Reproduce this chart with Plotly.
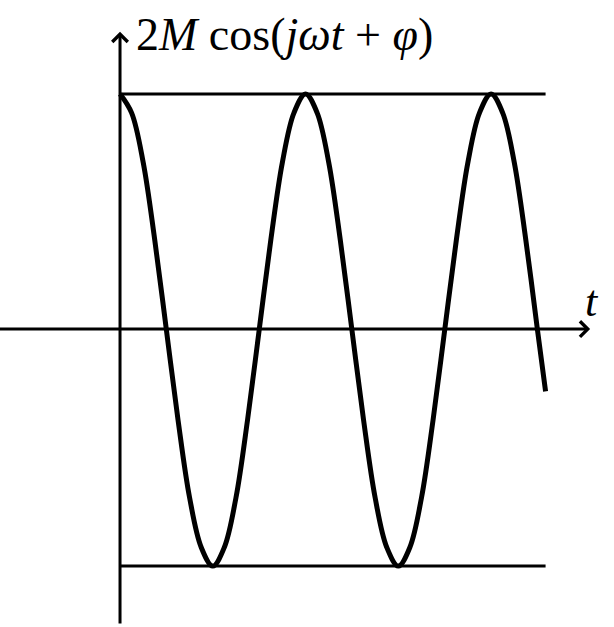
import plotly.graph_objects as go

# time samples (1 period = 8 units) (amplitude normalised to 1)
t_vals = [0.0, 0.5, 1.0, 1.5, 2.0, 2.5, 3.0, 3.5, 4.0, 4.5, 5.0, 5.5, 6.0, 6.5, 7.0, 7.5,
          8.0, 8.5, 9.0, 9.5, 10.0, 10.5, 11.0, 11.5, 12.0, 12.5, 13.0, 13.5, 14.0, 14.5, 15.0, 15.5,
          16.0, 16.5, 17.0, 17.5, 18.0, 18.35]
signal = [1.0, 0.92, 0.71, 0.38, 0.0, -0.38, -0.71, -0.92, -1.0, -0.92, -0.71, -0.38, 0.0, 0.38, 0.71, 0.92,
          1.0, 0.92, 0.71, 0.38, 0.0, -0.38, -0.71, -0.92, -1.0, -0.92, -0.71, -0.38, 0.0, 0.38, 0.71, 0.92,
          1.0, 0.92, 0.71, 0.38, 0.0, -0.26]
bound_t = [0.0, 18.35]
upper_bound = [1.0, 1.0]
lower_bound = [-1.0, -1.0]
y_label = "2<i>M</i> cos(<i>jωt</i> + <i>φ</i>)"
x_label = "<i>t</i>"

fig = go.Figure()
fig.add_trace(go.Scatter(x=bound_t, y=upper_bound, mode="lines",
                         line=dict(color="black", width=3), hoverinfo="skip"))
fig.add_trace(go.Scatter(x=bound_t, y=lower_bound, mode="lines",
                         line=dict(color="black", width=3), hoverinfo="skip"))
fig.add_trace(go.Scatter(x=t_vals, y=signal, mode="lines",
                         line=dict(color="black", width=5, shape="spline", smoothing=1.0),
                         hoverinfo="skip"))

# axes with arrow heads
fig.add_annotation(x=20.27, y=0.004, ax=-5.3, ay=0.004, xref="x", yref="y", axref="x", ayref="y",
                   text="", showarrow=True, arrowhead=4, arrowwidth=3, arrowsize=1,
                   arrowcolor="black", standoff=0)
fig.add_annotation(x=0.0, y=1.263, ax=0.0, ay=-1.25, xref="x", yref="y", axref="x", ayref="y",
                   text="", showarrow=True, arrowhead=4, arrowwidth=3, arrowsize=1,
                   arrowcolor="black", standoff=0)

fig.add_annotation(x=0.62, y=1.25, xref="x", yref="y", text=y_label, showarrow=False,
                   xanchor="left", yanchor="middle",
                   font=dict(family="Liberation Serif", size=46, color="black"))
fig.add_annotation(x=20.35, y=0.12, xref="x", yref="y", text=x_label, showarrow=False,
                   xanchor="center", yanchor="middle",
                   font=dict(family="Liberation Serif", size=44, color="black"))

fig.update_layout(
    width=614, height=627,
    margin=dict(l=0, r=0, t=0, b=0),
    paper_bgcolor="white", plot_bgcolor="white",
    showlegend=False,
    xaxis=dict(visible=False, range=[-5.175, 21.30], fixedrange=True),
    yaxis=dict(visible=False, range=[-1.258, 1.398], fixedrange=True),
)

fig.write_html("out.html", config={"displayModeBar": False},
               post_script="document.body.style.margin='0';")
